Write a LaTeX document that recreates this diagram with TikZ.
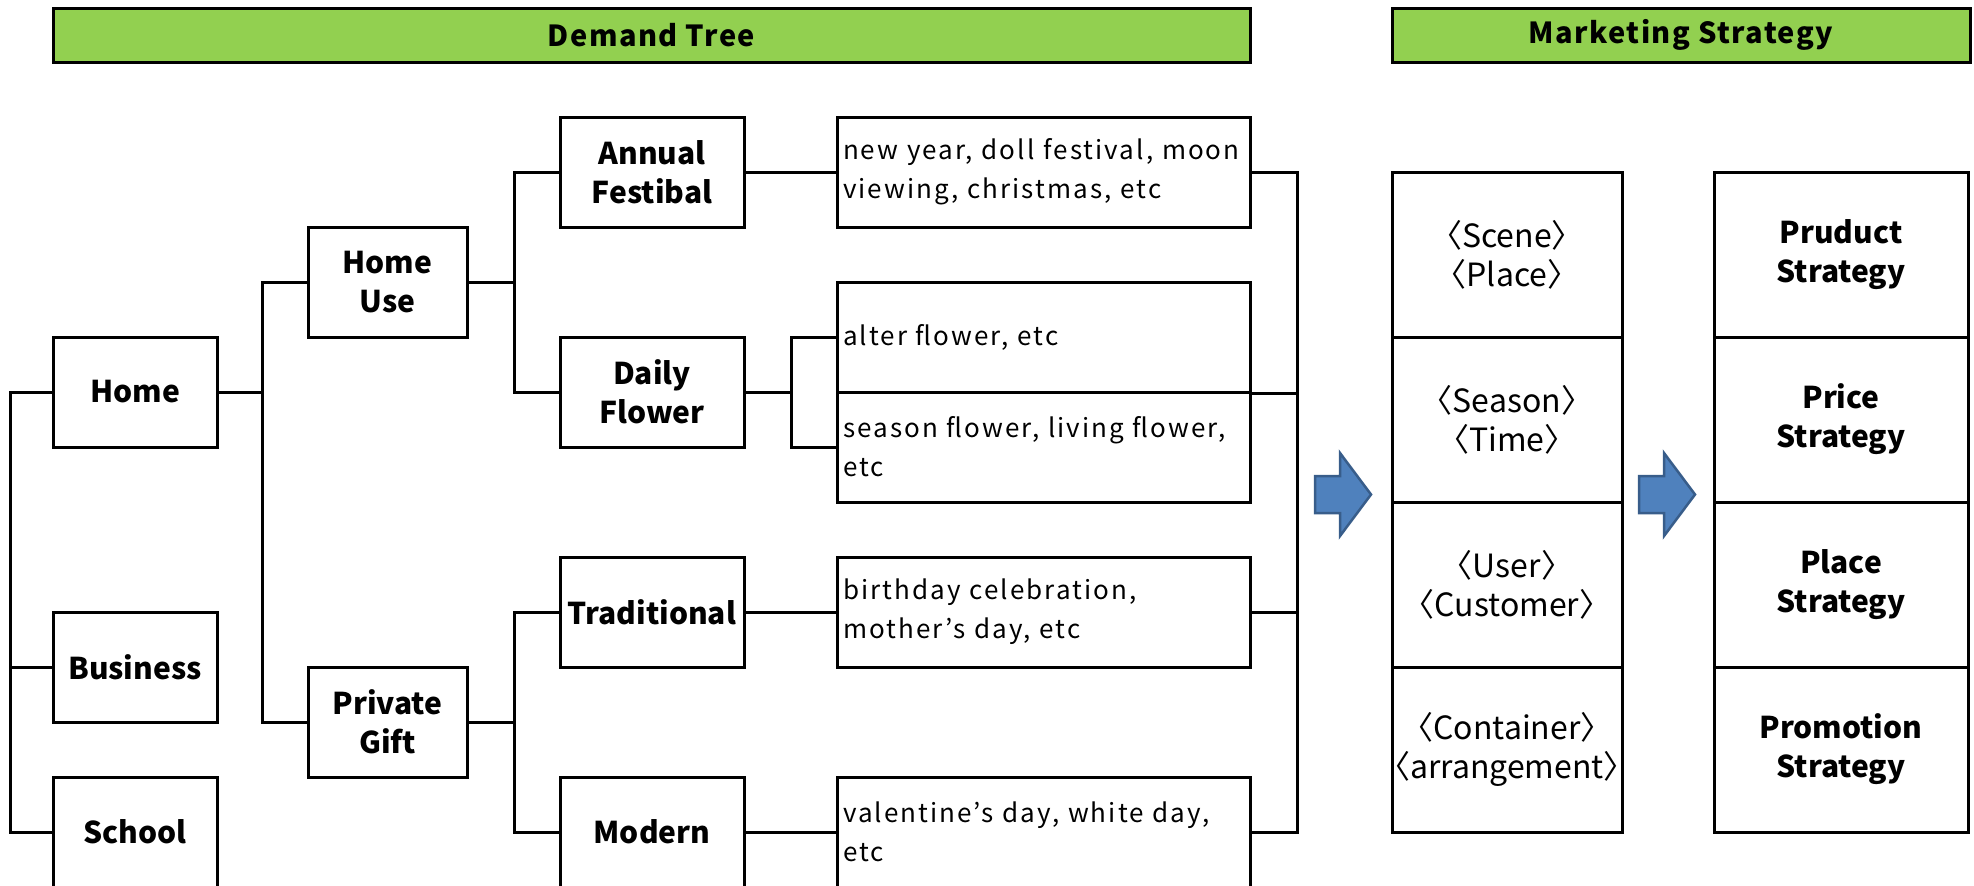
\documentclass[tikz,border=0pt]{standalone}
\usepackage{fontspec}
\setmainfont{Noto Sans CJK JP}
\newfontfamily\headfont{Noto Sans CJK JP}[LetterSpace=5]
\newfontfamily\descfont{Noto Sans CJK JP}[LetterSpace=8]
\newfontfamily\markfont{Noto Sans CJK JP}[RawFeature=+halt]
\definecolor{headgreen}{HTML}{92D050}
\definecolor{arrowblue}{HTML}{4F81BD}
\definecolor{arrowedge}{HTML}{385D8A}
\tikzset{
	link/.style={line width=3pt},
	head/.style={draw, line width=3pt, fill=headgreen, minimum height=54pt, inner sep=0pt, font=\headfont\fontsize{29}{34}\selectfont\bfseries},
	box/.style={draw, line width=3pt, minimum height=110pt, inner sep=0pt, align=center, font=\fontsize{30}{39}\selectfont\bfseries},
	desc/.style={draw, line width=3pt, minimum width=413pt, minimum height=110pt, text width=401pt, inner xsep=6pt, inner ysep=0pt, align=left, font=\descfont\fontsize{26}{39}\selectfont},
	cell/.style={draw, line width=3pt, minimum height=165pt, inner sep=0pt, align=center, font=\markfont\fontsize{32}{39}\selectfont},
	plan/.style={draw, line width=3pt, minimum height=165pt, inner sep=0pt, align=center, font=\fontsize{30}{39}\selectfont\bfseries}
}
\begin{document}
\begin{tikzpicture}[x=1pt, y=-1pt]
	\useasboundingbox (0,0) rectangle (1974,886);
	
	\node [head, minimum width=1197pt] (demand) at (651.5,35) {Demand Tree};
	\node [head, minimum width=578pt] (strategy) at (1681,35) {Marketing Strategy};
	
	\node [box, minimum width=164pt] (home) at (135,392) {Home};
	\node [box, minimum width=164pt] (business) at (135,667) {Business};
	\node [box, minimum width=164pt] (school) at (135,832) {School};
	
	\node [box, minimum width=159pt] (homeuse) at (387.5,282) {Home\\Use};
	\node [box, minimum width=159pt] (gift) at (387.5,722) {Private\\Gift};
	
	\node [box, minimum width=184pt] (annual) at (652,172) {Annual\\Festibal};
	\node [box, minimum width=184pt] (daily) at (652,392) {Daily\\Flower};
	\node [box, minimum width=184pt] (traditional) at (652,612) {Traditional};
	\node [box, minimum width=184pt] (modern) at (652,832) {Modern};
	
	\node [desc] (newyear) at (1043.5,172) {new year, doll festival, moon\\viewing, christmas, etc};
	\node [desc] (alter) at (1043.5,337) {alter flower, etc};
	\node [desc] (seasonal) at (1043.5,447) {season flower, living flower,\\etc};
	\node [desc] (birthday) at (1043.5,612) {birthday celebration,\\mother’s day, etc};
	\node [desc] (valentine) at (1043.5,832) {valentine’s day, white day,\\etc};
	
	\node [cell, minimum width=230pt] (scene) at (1507,254.5) {〈Scene〉\\〈Place〉};
	\node [cell, minimum width=230pt] (season) at (1507,419.5) {〈Season〉\\〈Time〉};
	\node [cell, minimum width=230pt] (user) at (1507,584.5) {〈User〉\\〈Customer〉};
	\node [cell, minimum width=230pt] (container) at (1507,749.5) {〈Container〉\\〈arrangement〉};
	
	\node [plan, minimum width=254pt] (product) at (1841,254.5) {Pruduct\\Strategy};
	\node [plan, minimum width=254pt] (price) at (1841,419.5) {Price\\Strategy};
	\node [plan, minimum width=254pt] (place) at (1841,584.5) {Place\\Strategy};
	\node [plan, minimum width=254pt] (promotion) at (1841,749.5) {Promotion\\Strategy};
	
	\coordinate (rootbus) at (10,0);
	\coordinate (usebus) at (262,0);
	\coordinate (kindbus) at (514,0);
	\coordinate (flowerbus) at (791,0);
	\coordinate (scenebus) at (1297,0);
	
	\draw [link] (home.west) -- (home.west -| rootbus) -- (school.west -| rootbus) -- (school.west);
	\draw [link] (business.west) -- (business.west -| rootbus);
	
	\draw [link] (home.east) -- (home.east -| usebus);
	\draw [link] (homeuse.west) -- (homeuse.west -| usebus) -- (gift.west -| usebus) -- (gift.west);
	
	\draw [link] (homeuse.east) -- (homeuse.east -| kindbus);
	\draw [link] (annual.west) -- (annual.west -| kindbus) -- (daily.west -| kindbus) -- (daily.west);
	\draw [link] (gift.east) -- (gift.east -| kindbus);
	\draw [link] (traditional.west) -- (traditional.west -| kindbus) -- (modern.west -| kindbus) -- (modern.west);
	
	\draw [link] (annual.east) -- (newyear.west);
	\draw [link] (daily.east) -- (daily.east -| flowerbus);
	\draw [link] (alter.west) -- (alter.west -| flowerbus) -- (seasonal.west -| flowerbus) -- (seasonal.west);
	\draw [link] (traditional.east) -- (birthday.west);
	\draw [link] (modern.east) -- (valentine.west);
	
	\draw [link] (newyear.east) -- (newyear.east -| scenebus) -- (valentine.east -| scenebus) -- (valentine.east);
	\draw [link] (alter.south east) -- (alter.south east -| scenebus);
	\draw [link] (birthday.east) -- (birthday.east -| scenebus);
	
	\foreach \ax in {1315,1639}
	{
		\filldraw [fill=arrowblue, draw=arrowedge, line width=2.5pt] (\ax,476) -- (\ax+25,476) -- (\ax+25,453) -- (\ax+56,494.5) -- (\ax+25,536) -- (\ax+25,513) -- (\ax,513) -- cycle;
	}
	
\end{tikzpicture}
\end{document}
